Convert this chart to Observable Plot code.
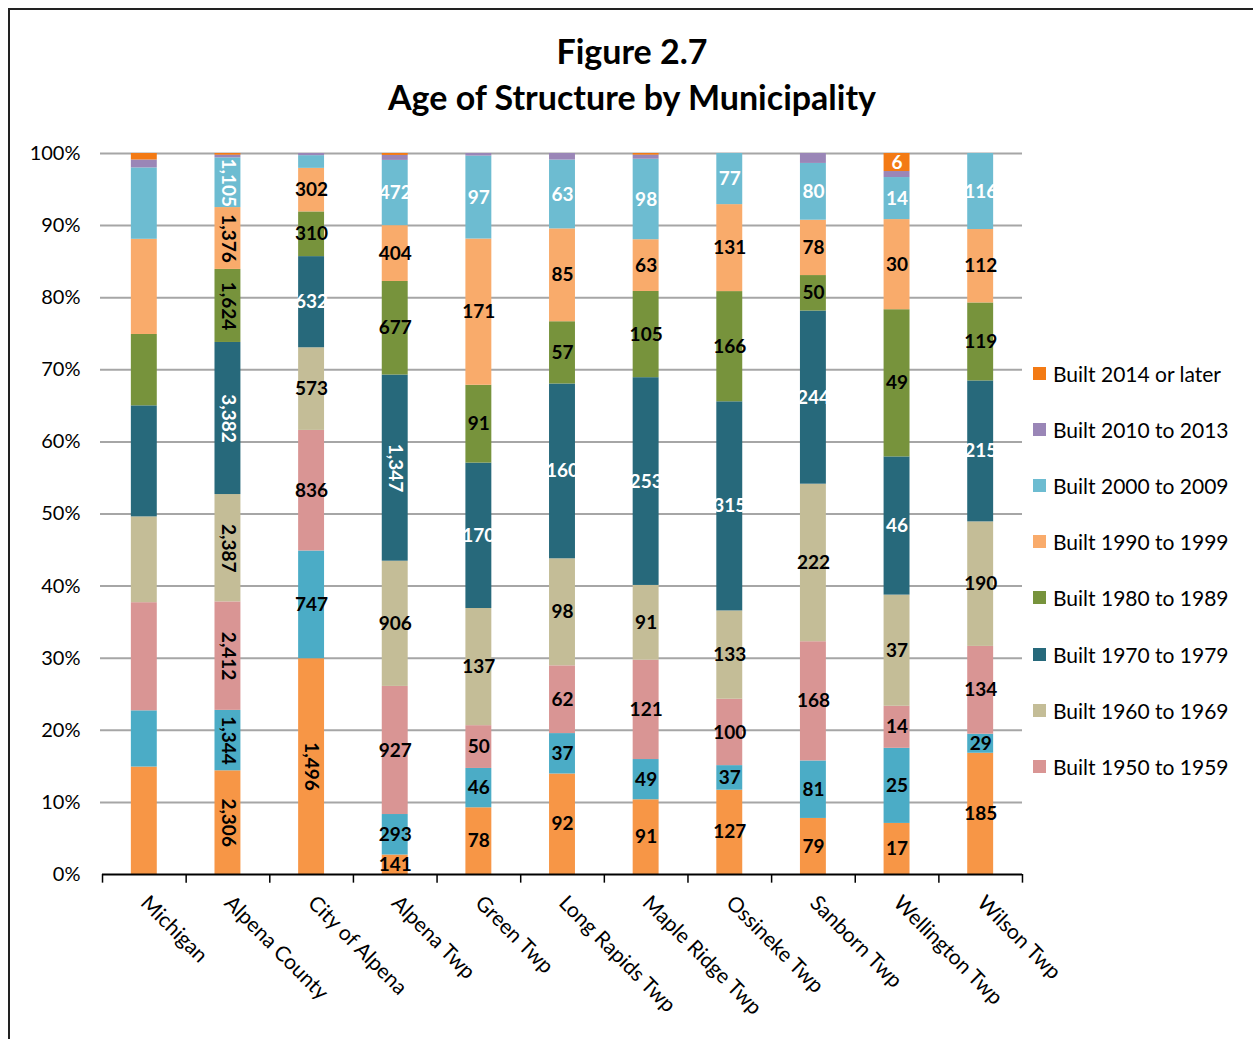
<!DOCTYPE html>
<html>
<head>
<meta charset="utf-8">
<script src="https://cdn.jsdelivr.net/npm/d3@7"></script>
<script src="https://cdn.jsdelivr.net/npm/@observablehq/plot@0.6"></script>
<style>
  html, body { margin: 0; padding: 0; background: #fff; }
  #wrap { position: relative; width: 1253px; height: 1039px; overflow: hidden; font-family: Lato, "Open Sans", sans-serif; }
  #frame { position: absolute; left: 8px; top: 8px; width: 1260px; height: 1100px; border-top: 2px solid #222; border-left: 2px solid #222; }
  #title { position: absolute; left: 0; width: 1264px; top: 28px; text-align: center; font-weight: bold; font-size: 34px; line-height: 46px; color: #000; }
  #chart { position: absolute; left: 0; top: 0; }
  #legend { position: absolute; left: 1033px; top: 360px; }
  .item { position: absolute; left: 0; height: 26px; display: flex; align-items: center; font-size: 21px; color: #000; white-space: nowrap; }
  .sw { width: 13px; height: 13px; margin-right: 7px; }
</style>
</head>
<body>
<div id="wrap">
  <div id="frame"></div>
  <div id="title">Figure 2.7<br>Age of Structure by Municipality</div>
  <div id="chart"></div>
  <div id="legend"></div>
</div>
<script>
// ---- data ----
const munis = ["Michigan", "Alpena County", "City of Alpena", "Alpena Twp", "Green Twp", "Long Rapids Twp", "Maple Ridge Twp", "Ossineke Twp", "Sanborn Twp", "Wellington Twp", "Wilson Twp"];
const cats = ["Built 1939 or earlier", "Built 1940 to 1949", "Built 1950 to 1959", "Built 1960 to 1969", "Built 1970 to 1979", "Built 1980 to 1989", "Built 1990 to 1999", "Built 2000 to 2009", "Built 2010 to 2013", "Built 2014 or later"];
const colors = ["#F79646", "#4BACC6", "#D99594", "#C4BD97", "#27697B", "#77933C", "#F9AB6B", "#6DBCD1", "#9A86B7", "#F37A14"];
// Michigan values are shares (%); others are housing-unit counts
const built1939 = [14.9, 2306, 1496, 141, 78, 92, 91, 127, 79, 17, 185];
const built1940 = [7.8, 1344, 747, 293, 46, 37, 49, 37, 81, 25, 29];
const built1950 = [15.0, 2412, 836, 927, 50, 62, 121, 100, 168, 14, 134];
const built1960 = [11.9, 2387, 573, 906, 137, 98, 91, 133, 222, 37, 190];
const built1970 = [15.4, 3382, 632, 1347, 170, 160, 253, 315, 244, 46, 215];
const built1980 = [9.9, 1624, 310, 677, 91, 57, 105, 166, 50, 49, 119];
const built1990 = [13.2, 1376, 302, 404, 171, 85, 63, 131, 78, 30, 112];
const built2000 = [9.9, 1105, 88, 472, 97, 63, 98, 77, 80, 14, 116];
const built2010 = [1.1, 60, 15, 36, 3, 6, 5, 0, 14, 2, 0];
const built2014 = [0.9, 37, 0, 14, 0, 0, 2, 0, 0, 6, 0];
const unlabeled = ["Michigan"];
const whiteLabelCats = ["Built 1970 to 1979", "Built 2000 to 2009", "Built 2014 or later"];
const legendCats = ["Built 2014 or later", "Built 2010 to 2013", "Built 2000 to 2009", "Built 1990 to 1999", "Built 1980 to 1989", "Built 1970 to 1979", "Built 1960 to 1969", "Built 1950 to 1959"];
const yTicks = [0, 0.1, 0.2, 0.3, 0.4, 0.5, 0.6, 0.7, 0.8, 0.9, 1];

// ---- table ----
const series = [built1939, built1940, built1950, built1960, built1970, built1980, built1990, built2000, built2010, built2014];
const totals = munis.map((m, j) => series.reduce((a, s) => a + s[j], 0));
const rows = [];
series.forEach((s, i) => munis.forEach((m, j) => rows.push({muni: m, cat: cats[i], value: s[j], share: s[j] / totals[j]})));

const fmt = d3.format(",");
const show = d => !unlabeled.includes(d.muni) && d.share >= 0.02;
const stackOpts = {x: "muni", y: "value", z: "cat", order: cats, offset: "normalize"};

const W = 1253, H = 1039;
const chart = Plot.plot({
  width: W, height: H,
  marginTop: 153, marginBottom: 165, marginLeft: 102, marginRight: 231,
  style: {fontFamily: "Lato, 'Open Sans', sans-serif", background: "transparent"},
  x: {domain: munis, paddingInner: 0.69, paddingOuter: 0.345, round: false},
  y: {domain: [0, 1]},
  color: {domain: cats, range: colors},
  marks: [
    Plot.ruleY(yTicks.slice(1), {stroke: "#A6A6A6", strokeWidth: 2, insetLeft: -2}),
    Plot.barY(rows, Plot.stackY({...stackOpts, fill: "cat"})),
    Plot.text(rows, Plot.stackY({...stackOpts,
      text: d => show(d) && !whiteLabelCats.includes(d.cat) ? fmt(d.value) : null,
      rotate: d => d.value >= 1000 ? 90 : 0,
      fill: "#000", fontWeight: "bold", fontSize: 19})),
    Plot.text(rows, Plot.stackY({...stackOpts,
      text: d => show(d) && whiteLabelCats.includes(d.cat) ? fmt(d.value) : null,
      rotate: d => d.value >= 1000 ? 90 : 0,
      fill: "#fff", fontWeight: "bold", fontSize: 19})),
    Plot.ruleY([0], {stroke: "#000", strokeWidth: 2}),
    Plot.ruleX(munis, {x: d => d, y1: 0, y2: -0.012, dx: -41.8, stroke: "#000", strokeWidth: 1.5}),
    Plot.ruleX(munis.slice(-1), {x: d => d, y1: 0, y2: -0.012, dx: 41.8, stroke: "#000", strokeWidth: 1.5}),
    Plot.axisY(yTicks, {tickSize: 0, tickPadding: 22, tickFormat: d3.format(".0%"), fontSize: 20, label: null}),
    Plot.axisX({tickSize: 0, tickRotate: 45, tickPadding: 25, fontSize: 21, label: null})
  ]
});
document.getElementById("chart").appendChild(chart);

// ---- legend ----
const leg = document.getElementById("legend");
legendCats.forEach((c, i) => {
  const it = document.createElement("div");
  it.className = "item";
  it.style.top = (i * 56.2) + "px";
  const sw = document.createElement("div");
  sw.className = "sw";
  sw.style.background = colors[cats.indexOf(c)];
  it.appendChild(sw);
  it.appendChild(document.createTextNode(c));
  leg.appendChild(it);
});
</script>
</body>
</html>
